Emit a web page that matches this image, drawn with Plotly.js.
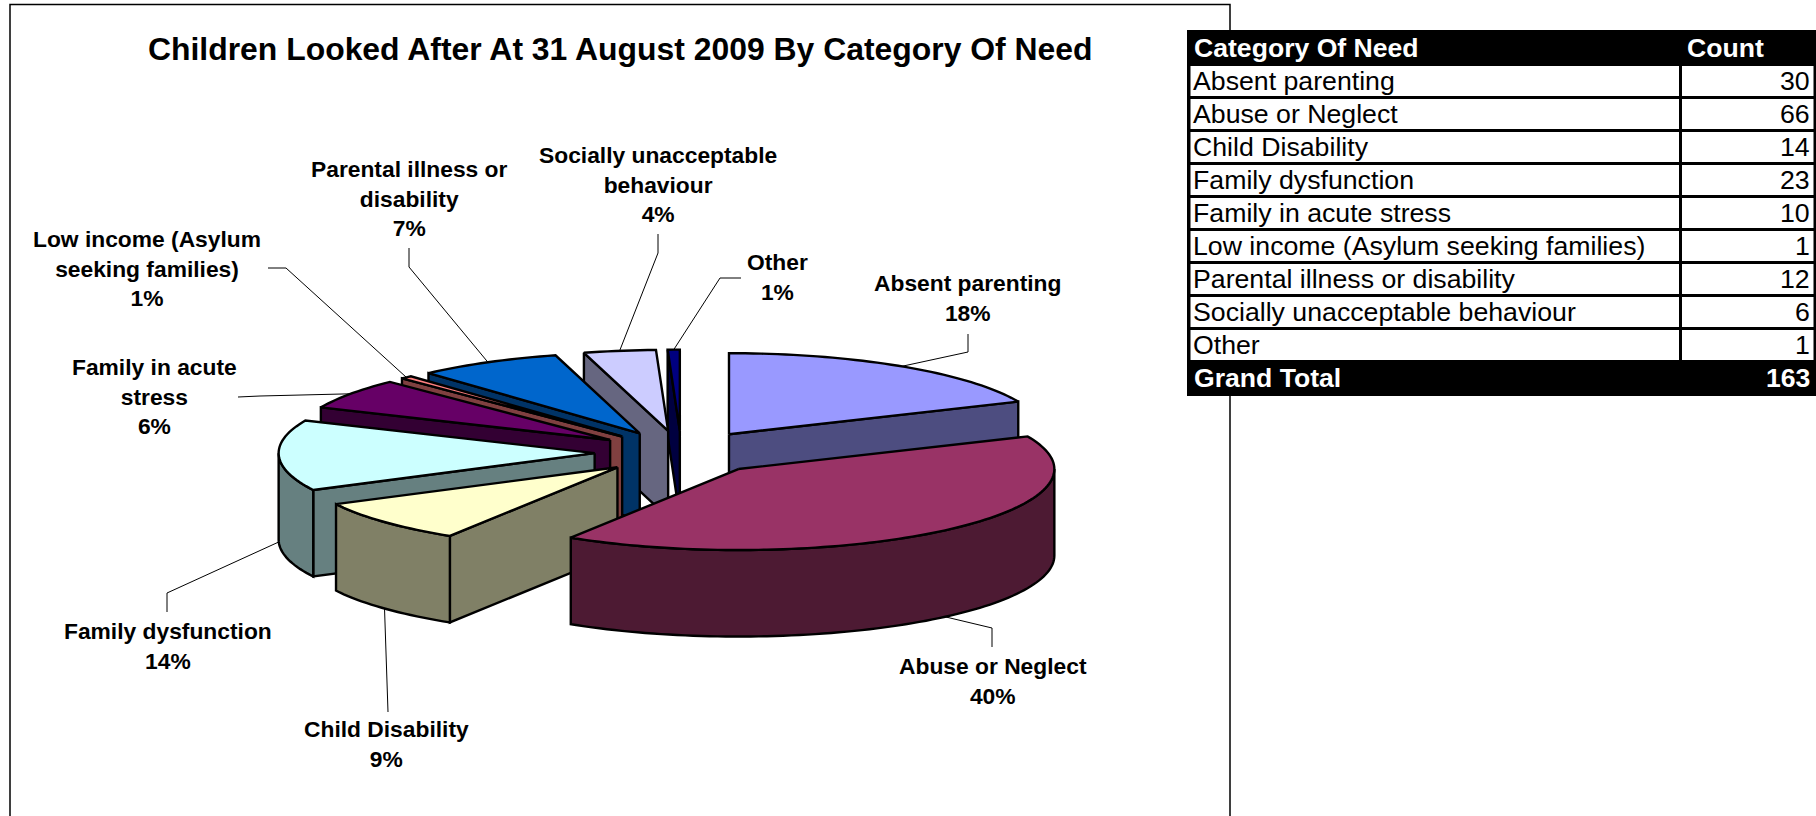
<!DOCTYPE html>
<html><head><meta charset="utf-8">
<script src="https://cdn.plot.ly/plotly-3.0.1.min.js"></script>
<style>html,body{margin:0;padding:0;background:#fff}#chart{width:1816px;height:816px}</style>
</head><body><div id="chart"></div>
<script>
// --- data ---
const titleText = "Children Looked After At 31 August 2009 By Category Of Need";
const categories = ["Absent parenting","Abuse or Neglect","Child Disability","Family dysfunction","Family in acute stress","Low income (Asylum seeking families)","Parental illness or disability","Socially unacceptable behaviour","Other"];
const counts = [30,66,14,23,10,1,12,6,1];
const headerLabels = ["Category Of Need","Count"];
const grandTotalLabel = "Grand Total";
const labelLines = [["Absent parenting"],["Abuse or Neglect"],["Child Disability"],["Family dysfunction"],["Family in acute","stress"],["Low income (Asylum","seeking families)"],["Parental illness or","disability"],["Socially unacceptable","behaviour"],["Other"]];
// --- styles ---
const topColors  = ["#9999FF","#993366","#FFFFCC","#CCFFFF","#660066","#FF8080","#0066CC","#CCCCFF","#000080"];
const sideColors = ["#4D4D80","#4D1A33","#808066","#668080","#330033","#804040","#003366","#666680","#000040"];
const FONT = "Liberation Sans, Arial, sans-serif";
// --- pie projection ---
const cx=681.5, cy=452.5, Rx=316, Ry=81, depth=86.5, explodeX=0.275, explodeY=0.27;
const drawOrder=[8,7,6,5,4,3,2,0,1];
// --- label placement: label centre, then elbow(s) of leader line ---
const labelX=[967,993,386,168,154,147,409,658,777];
const labelY=[298,681,744,646,396,268,198,184,277];
const leaderStart=[[968,334],[992,647],[388,712],[167,612],[238,397],[268,268],[409,248],[658,234],[741,278]];
const leaderElbow=[[968,352],[992,628],null,[167,593],[260,396],[286,268],[409,267],[658,253],[720,278]];
// --- table placement ---
const tbl={x0:1187,x1:1816,y0:30,y1:396,firstRow:66,rowPitch:33,rowH:30,c1x0:1190.5,c1x1:1679,c2x0:1682,c2x1:1813.5,headY:47.5,rowY:81,totalY:377.5,textX:1192,boldX:1193,countX:1685.5,numX:1811};

const total=counts.reduce((a,b)=>a+b,0);
const rad=d=>d*Math.PI/180;
let acc=0;
const slices=counts.map(v=>{const a0=acc;acc+=v/total*360;const a1=acc;const m=(a0+a1)/2;
  return {a0,a1,m,ax:cx+explodeX*Rx*Math.sin(rad(m)),ay:cy-explodeY*Ry*Math.cos(rad(m))};});
const rim=(s,t,dz=0)=>[s.ax+Rx*Math.sin(rad(t)),s.ay-Ry*Math.cos(rad(t))+dz];
const arc=(s,a,b,dz=0)=>{const n=Math.max(2,Math.ceil(Math.abs(b-a)/1.5));const o=[];for(let i=0;i<=n;i++)o.push(rim(s,a+(b-a)*i/n,dz));return o;};
const poly=(pts,fill)=>({type:'scatter',mode:'lines',x:pts.map(p=>p[0]).concat(pts[0][0]),y:pts.map(p=>p[1]).concat(pts[0][1]),
  fill:'toself',fillcolor:fill,line:{color:'#000',width:2.4,simplify:false},hoverinfo:'skip',showlegend:false});
const traces=[];
drawOrder.forEach(i=>{const s=slices[i];const apex=[s.ax,s.ay],apexB=[s.ax,s.ay+depth];
  const cut=t=>{const r=rim(s,t);traces.push(poly([apex,r,[r[0],r[1]+depth],apexB],sideColors[i]));};
  if(Math.sin(rad(s.a0))<0) cut(s.a0);
  if(Math.sin(rad(s.a1))>0) cut(s.a1);
  const lo=Math.max(s.a0,90),hi=Math.min(s.a1,270);
  if(hi>lo) traces.push(poly(arc(s,lo,hi).concat(arc(s,hi,lo,depth)),sideColors[i]));
  traces.push(poly([apex].concat(arc(s,s.a0,s.a1)),topColors[i]));
});
// leader lines, ending on the rim of each slice at its mid-angle
const rectShape=(x0,x1,y0,y1,c)=>({type:'rect',xref:'x',yref:'y',x0,x1,y0,y1,line:{width:0},fillcolor:c,layer:'above'});
const shapes=[{type:'rect',xref:'x',yref:'y',x0:10,x1:1230,y0:4.5,y1:830,line:{color:'#000',width:1.5},fillcolor:'rgba(0,0,0,0)',layer:'below'}];
const leaders=slices.map((s,i)=>{const c=Math.cos(rad(s.m));const e=rim(s,s.m,c<0?depth:0);
  const pts=[leaderStart[i]];if(leaderElbow[i])pts.push(leaderElbow[i]);pts.push(e);return pts;});
leaders.forEach(pts=>traces.unshift({type:'scatter',mode:'lines',x:pts.map(p=>p[0]),y:pts.map(p=>p[1]),line:{color:'#000',width:1},hoverinfo:'skip',showlegend:false}));
// labels
const annotations=slices.map((s,i)=>({xref:'x',yref:'y',x:labelX[i],y:labelY[i],xanchor:'center',yanchor:'middle',showarrow:false,align:'center',
  text:labelLines[i].concat(Math.round(counts[i]/total*100)+"%").join("<br>"),font:{family:FONT,size:22.8,color:'#000',weight:700}}));
annotations.push({xref:'x',yref:'y',x:620,y:49,xanchor:'center',yanchor:'middle',showarrow:false,text:titleText,font:{family:FONT,size:31.9,color:'#000',weight:700}});
// table
const cellText=(x,y,text,anchor,color,bold)=>({xref:'x',yref:'y',x,y,xanchor:anchor,yanchor:'middle',showarrow:false,text,borderpad:0,
  font:{family:FONT,size:bold?26.6:26.7,color,weight:bold?700:400}});
shapes.push(rectShape(tbl.x0,tbl.x1,tbl.y0,tbl.y1,'#000'));
annotations.push(cellText(tbl.boldX,tbl.headY,headerLabels[0],'left','#fff',true));
annotations.push(cellText(tbl.countX,tbl.headY,headerLabels[1],'left','#fff',true));
categories.forEach((c,i)=>{const top=tbl.firstRow+tbl.rowPitch*i,y=tbl.rowY+tbl.rowPitch*i;
  shapes.push(rectShape(tbl.c1x0,tbl.c1x1,top,top+tbl.rowH,'#fff'));
  shapes.push(rectShape(tbl.c2x0,tbl.c2x1,top,top+tbl.rowH,'#fff'));
  annotations.push(cellText(tbl.textX,y,c,'left','#000',false));
  annotations.push(cellText(tbl.numX,y,String(counts[i]),'right','#000',false));
});
annotations.push(cellText(tbl.boldX,tbl.totalY,grandTotalLabel,'left','#fff',true));
annotations.push(cellText(tbl.numX,tbl.totalY,String(total),'right','#fff',true));
Plotly.newPlot('chart',traces,{width:1816,height:816,margin:{l:0,r:0,t:0,b:0},paper_bgcolor:'#fff',plot_bgcolor:'#fff',showlegend:false,
  xaxis:{range:[0,1816],visible:false,fixedrange:true},yaxis:{range:[816,0],visible:false,fixedrange:true},shapes,annotations},{displayModeBar:false,staticPlot:true});
</script></body></html>
